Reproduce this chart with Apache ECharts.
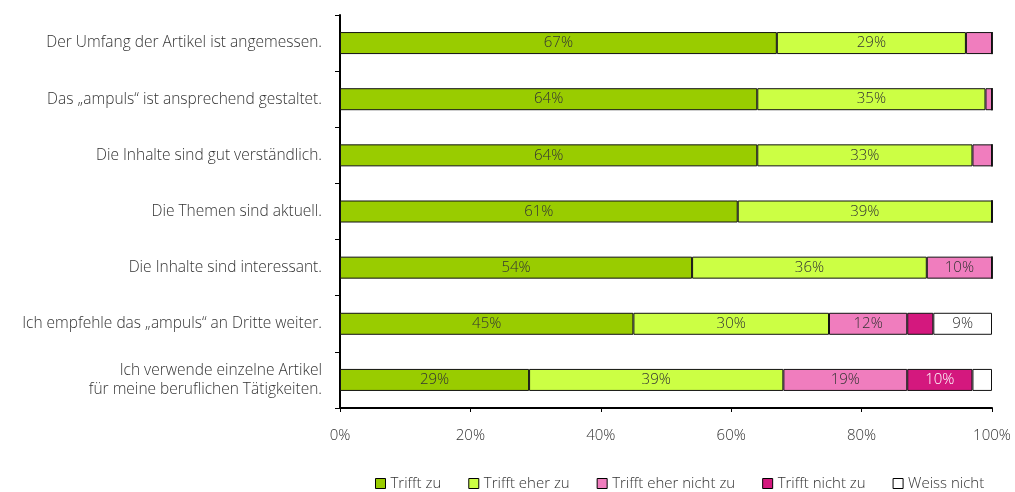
<!DOCTYPE html>
<html>
<head>
<meta charset="utf-8">
<script src="https://cdn.jsdelivr.net/npm/echarts@6/dist/echarts.min.js"></script>
<style>
html, body { margin: 0; padding: 0; background: #fff; }
#chart { width: 1015px; height: 492px; }
</style>
</head>
<body>
<div id="chart"></div>
<script>
// statements, top to bottom
const categories = [
    'Der Umfang der Artikel ist angemessen.',
    'Das \u201eampuls\u201c ist ansprechend gestaltet.',
    'Die Inhalte sind gut verst\u00e4ndlich.',
    'Die Themen sind aktuell.',
    'Die Inhalte sind interessant.',
    'Ich empfehle das \u201eampuls\u201c an Dritte weiter.',
    'Ich verwende einzelne Artikel\nf\u00fcr meine beruflichen T\u00e4tigkeiten.'
];

const triffZu = [67, 64, 64, 61, 54, 45, 29];
const eherZu = [29, 35, 33, 39, 36, 30, 39];
const eherNicht = [4, 1, 3, 0, 10, 12, 19];
const nichtZu = [0, 0, 0, 0, 0, 4, 10];
const weissNicht = [0, 0, 0, 0, 0, 9, 3];

const seriesDefs = [
    { name: 'Trifft zu', data: triffZu, color: '#99cc00', text: '#333' },
    { name: 'Trifft eher zu', data: eherZu, color: '#ccff44', text: '#333' },
    { name: 'Trifft eher nicht zu', data: eherNicht, color: '#f07dbe', text: '#333' },
    { name: 'Trifft nicht zu', data: nichtZu, color: '#d4187e', text: '#fff' },
    { name: 'Weiss nicht', data: weissNicht, color: '#ffffff', text: '#333' }
];

const font = '"Open Sans", Lato, sans-serif';

let option = {
    backgroundColor: '#fff',
    animation: false,
    textStyle: { fontFamily: font, fontWeight: 300 },
    grid: { left: 340, right: 23, top: 15, bottom: 84 },
    legend: {
        top: 471,
        left: 370,
        itemWidth: 10,
        itemHeight: 10,
        itemGap: 27,
        textStyle: { fontSize: 15, color: '#333', fontFamily: font, fontWeight: 300 },
        data: seriesDefs.map(s => ({ name: s.name, icon: 'rect', itemStyle: { borderColor: '#000', borderWidth: 1 } }))
    },
    xAxis: {
        type: 'value',
        min: 0,
        max: 100,
        interval: 20,
        axisLine: { show: true, lineStyle: { color: '#000', width: 2 } },
        axisTick: { show: true, length: 4, lineStyle: { color: '#000' } },
        splitLine: { show: false },
        axisLabel: { formatter: '{value}%', fontSize: 15, color: '#333', margin: 20, fontFamily: font, fontWeight: 300 }
    },
    yAxis: {
        type: 'category',
        inverse: true,
        data: categories,
        axisLine: { show: true, lineStyle: { color: '#000', width: 2 } },
        axisTick: { show: true, length: 5, lineStyle: { color: '#000' } },
        axisLabel: { fontSize: 15.5, color: '#333', margin: 18, lineHeight: 19, align: 'right', fontFamily: font, fontWeight: 300 }
    },
    series: seriesDefs.map(s => ({
        name: s.name,
        type: 'bar',
        stack: 'total',
        barWidth: 22,
        data: s.data,
        itemStyle: { color: s.color, borderColor: '#111', borderWidth: 1 },
        label: {
            show: true,
            position: 'inside',
            fontSize: 15,
            color: s.text,
            fontFamily: font,
            fontWeight: 300,
            formatter: p => p.value >= 9 ? p.value + '%' : ''
        }
    }))
};

let chart = echarts.init(document.getElementById('chart'));
chart.setOption(option);
</script>
</body>
</html>
